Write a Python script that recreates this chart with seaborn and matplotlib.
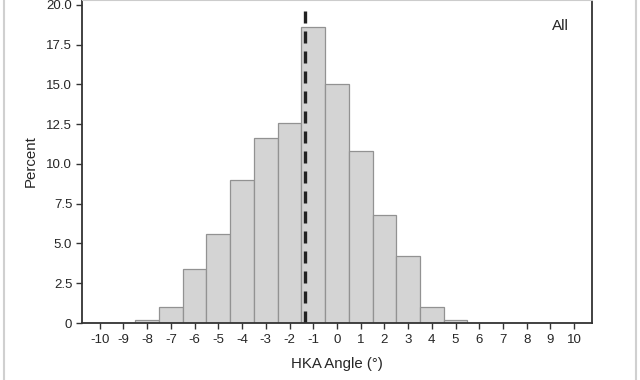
import numpy as np
import pandas as pd
import matplotlib
matplotlib.use("Agg")
import matplotlib.pyplot as plt
import seaborn as sns

# HKA angle histogram, percent per 1-degree bin
angles = list(range(-10, 11))
percent = [0, 0, 0.2, 1.0, 3.4, 5.6, 9.0, 11.6, 12.6, 18.6, 15.0,
           10.8, 6.8, 4.2, 1.0, 0.2, 0, 0, 0, 0, 0]
mean_angle = -1.33
y_ticks = [0, 2.5, 5, 7.5, 10, 12.5, 15, 17.5, 20]
y_labels = ["0", "2.5", "5.0", "7.5", "10.0", "12.5", "15.0", "17.5", "20.0"]

df = pd.DataFrame({"angle": angles, "pct": percent})

sns.set_style("white")
plt.rcParams["font.family"] = ["Liberation Sans", "DejaVu Sans"]
plt.rcParams["axes.unicode_minus"] = False

fig = plt.figure(figsize=(6.4, 3.8), dpi=100)
ax = fig.add_axes([0.128, 0.15, 0.797, 0.85])

sns.histplot(data=df, x="angle", weights="pct", bins=list(np.arange(-10.5, 11.5, 1)),
             color="#d4d4d4", edgecolor="#929292", linewidth=0.9, alpha=1, ax=ax)
ax.vlines(mean_angle, 0, 19.6, color="#222222", linewidth=2.4, linestyles=(0, (3.6, 2.4)))

ax.set_xlim(-10.75, 10.75)
ax.set_ylim(0, 20.3)
ax.set_xticks(angles)
ax.set_yticks(y_ticks)
ax.set_yticklabels(y_labels)
ax.tick_params(axis="both", labelsize=9.5, length=4, width=1, color="#333333", direction="out",
               bottom=True, left=True, pad=4)
ax.tick_params(axis="y", pad=3)
ax.set_xlabel("HKA Angle (°)", fontsize=10.8, labelpad=8)
ax.set_ylabel("Percent", fontsize=10.8, labelpad=6)
for s in ["left", "right", "bottom"]:
    ax.spines[s].set_color("#333333")
    ax.spines[s].set_linewidth(1.3)
ax.spines["top"].set_color("#cccccc")
ax.text(0.955, 0.92, "All", transform=ax.transAxes, ha="right", va="center", fontsize=11)

# light outer frame
for xf in [0.007, 0.994]:
    fig.add_artist(plt.Line2D([xf, xf], [0, 1], color="#d0d0d0", linewidth=1.5,
                              transform=fig.transFigure))

fig.savefig("out.png", dpi=100)
